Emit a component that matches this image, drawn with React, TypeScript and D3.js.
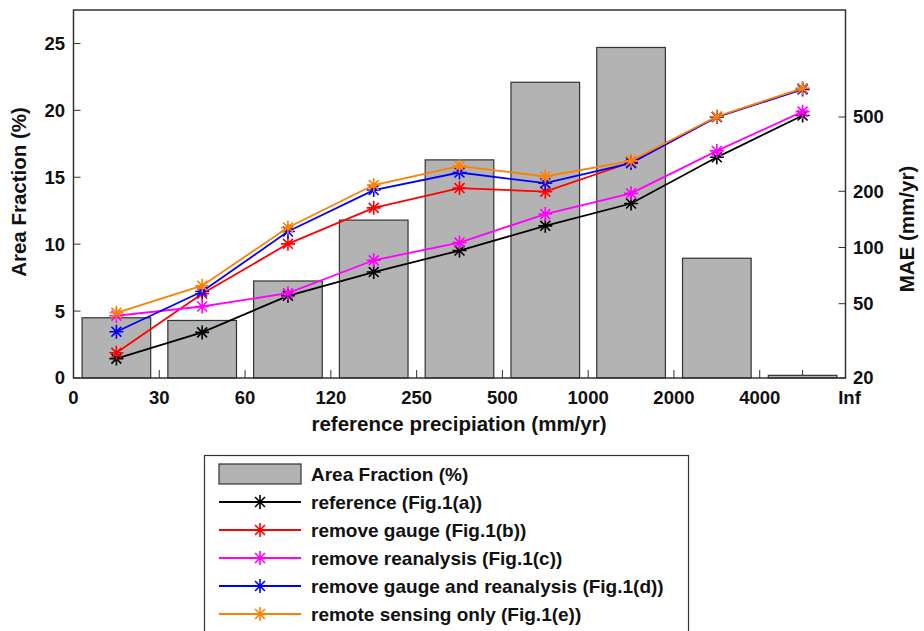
import React from "react";
import * as d3 from "d3";

const tickLabels = ["0", "30", "60", "120", "250", "500", "1000", "2000", "4000", "Inf"];
const areaFraction = [4.5, 4.3, 7.25, 11.8, 16.3, 22.1, 24.7, 8.95, 0.2];
const reference = [25.4, 35.1, 55.1, 73.9, 96.3, 130.6, 172, 304, 509];
const removeGauge = [27.3, 56.5, 104.6, 163, 208, 199, 286, 500, 710];
const removeReanalysis = [43.1, 48.3, 56.9, 85.4, 106.3, 151, 195, 329, 534];
const removeBoth = [35.4, 58.1, 121.7, 203, 252, 221, 283, 500, 702];
const remoteOnly = [44.7, 62.4, 128, 216, 273, 240, 291, 503, 712];
const leftTicks = [0, 5, 10, 15, 20, 25];
const rightTicks = [20, 50, 100, 200, 500];

const seriesNames = [
  "reference (Fig.1(a))",
  "remove gauge (Fig.1(b))",
  "remove reanalysis (Fig.1(c))",
  "remove gauge and reanalysis (Fig.1(d))",
  "remote sensing only (Fig.1(e))",
];
const seriesValues = [reference, removeGauge, removeReanalysis, removeBoth, remoteOnly];
const seriesColors = ["#000000", "#ff0000", "#ff00ff", "#0000ff", "#ff8000"];

const FONT = "'Liberation Sans', Arial, sans-serif";

function Asterisk({ x, y, color, r = 7 }: { x: number; y: number; color: string; r?: number }) {
  const d = r * Math.SQRT1_2;
  const p = `M${x},${y - r}L${x},${y + r}M${x - r},${y}L${x + r},${y}M${x - d},${y - d}L${x + d},${y + d}M${x - d},${y + d}L${x + d},${y - d}`;
  return <path d={p} stroke={color} strokeWidth={1.6} fill="none" />;
}

export default function App() {
  const L = 73.5, R = 845.5, T = 10, B = 378;
  const nb = areaFraction.length;
  const x = d3.scaleLinear().domain([0, nb]).range([L, R]);
  const yL = d3.scaleLinear().domain([0, 27.5]).range([B, T]);
  const yR = d3.scaleLog().domain([20, 1870]).range([B, T]);
  const bw = (x(1) - x(0)) * 0.8;
  const line = d3
    .line<number>()
    .x((_, i) => x(i + 0.5))
    .y((v) => yR(v));

  const legendRows = ["Area Fraction (%)", ...seriesNames];
  const ly0 = 474, lstep = 28;

  return (
    <svg
      width={924}
      height={631}
      style={{ position: "absolute", left: 0, top: 0, background: "#fff" }}
      fontFamily={FONT}
      fontWeight="bold"
      fill="#111"
    >
      <rect x={0} y={0} width={924} height={631} fill="#fff" />
      {areaFraction.map((_, i) => (
        <line key={"ct" + i} x1={x(i + 0.5)} x2={x(i + 0.5)} y1={B} y2={B - 8} stroke="#333" strokeWidth={1} />
      ))}
      {areaFraction.map((v, i) => (
        <rect
          key={"b" + i}
          x={x(i + 0.5) - bw / 2}
          y={yL(v)}
          width={bw}
          height={B - yL(v)}
          fill="#b3b3b3"
          stroke="#333"
          strokeWidth={1.2}
        />
      ))}
      {tickLabels.map((_, i) => (
        <line key={"bt" + i} x1={x(i)} x2={x(i)} y1={B} y2={B - 8} stroke="#333" strokeWidth={1} />
      ))}
      {leftTicks.map((t) => (
        <line key={"lt" + t} x1={L} x2={L + 7} y1={yL(t)} y2={yL(t)} stroke="#333" strokeWidth={1} />
      ))}
      {rightTicks.map((t) => (
        <line key={"rt" + t} x1={R} x2={R - 7} y1={yR(t)} y2={yR(t)} stroke="#333" strokeWidth={1} />
      ))}
      {seriesValues.map((vals, si) => (
        <g key={"s" + si}>
          <path d={line(vals) || ""} fill="none" stroke={seriesColors[si]} strokeWidth={1.8} />
          {vals.map((v, i) => (
            <Asterisk key={i} x={x(i + 0.5)} y={yR(v)} color={seriesColors[si]} />
          ))}
        </g>
      ))}
      <rect x={L} y={T} width={R - L} height={B - T} fill="none" stroke="#333" strokeWidth={1.5} />
      {leftTicks.map((t) => (
        <text key={"ll" + t} x={65} y={yL(t)} dy="0.35em" textAnchor="end" fontSize={18.5}>
          {t}
        </text>
      ))}
      {rightTicks.map((t) => (
        <text key={"rl" + t} x={853} y={yR(t)} dy="0.35em" textAnchor="start" fontSize={18.5}>
          {t}
        </text>
      ))}
      {tickLabels.map((t, i) => (
        <text key={"xl" + i} x={x(i) + (i === nb ? 4 : 0)} y={404} textAnchor="middle" fontSize={18.5}>
          {t}
        </text>
      ))}
      <text x={459} y={431} textAnchor="middle" fontSize={20.5}>
        reference precipiation (mm/yr)
      </text>
      <text transform="translate(26,192) rotate(-90)" textAnchor="middle" fontSize={20.5}>
        Area Fraction (%)
      </text>
      <text transform="translate(914,229) rotate(-90)" textAnchor="middle" fontSize={20.5}>
        MAE (mm/yr)
      </text>
      <rect x={204.5} y={455.5} width={484} height={190} fill="#fff" stroke="#333" strokeWidth={1.2} />
      <rect x={219} y={464} width={82} height={20} fill="#b3b3b3" stroke="#333" strokeWidth={1.2} />
      {seriesNames.map((_, si) => {
        const yy = ly0 + lstep * (si + 1);
        return (
          <g key={"lg" + si}>
            <line x1={219} x2={301} y1={yy} y2={yy} stroke={seriesColors[si]} strokeWidth={1.8} />
            <Asterisk x={260} y={yy} color={seriesColors[si]} />
          </g>
        );
      })}
      {legendRows.map((t, i) => (
        <text key={"lt" + i} x={311} y={ly0 + lstep * i} dy="0.35em" fontSize={19}>
          {t}
        </text>
      ))}
    </svg>
  );
}
